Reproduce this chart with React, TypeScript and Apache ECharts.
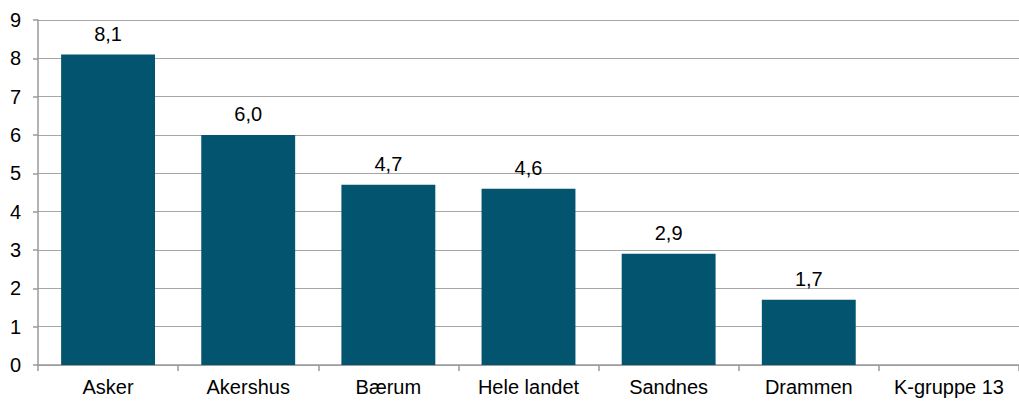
import React, { useEffect, useRef } from "react";
import * as echarts from "echarts";

const categories = ["Asker", "Akershus", "Bærum", "Hele landet", "Sandnes", "Drammen", "K-gruppe 13"];
const values: (number | null)[] = [8.1, 6.0, 4.7, 4.6, 2.9, 1.7, null];

export default function App() {
  const ref = useRef<HTMLDivElement>(null);
  useEffect(() => {
    document.body.style.margin = "0";
    const chart = echarts.init(ref.current!, undefined, { renderer: "svg" });
    const axisColor = "#9a9a9a";
    const font = "'Liberation Sans', Arial, sans-serif";
    chart.setOption({
      animation: false,
      textStyle: { fontFamily: font },
      grid: { left: 38, top: 20, width: 986, height: 345, containLabel: false },
      xAxis: {
        type: "category",
        data: categories,
        axisLine: { lineStyle: { color: axisColor, width: 1.5 } },
        axisTick: { show: true, alignWithLabel: false, length: 6, lineStyle: { color: axisColor, width: 1.5 } },
        axisLabel: { color: "#000", fontSize: 20, fontFamily: font, margin: 12, interval: 0 },
      },
      yAxis: {
        type: "value",
        min: 0,
        max: 9,
        interval: 1,
        axisLine: { show: true, lineStyle: { color: axisColor, width: 1.5 } },
        axisTick: { show: true, length: 5, lineStyle: { color: axisColor, width: 1.5 } },
        splitLine: { lineStyle: { color: "#a6a6a6", width: 1.2 } },
        axisLabel: { color: "#000", fontSize: 20, fontFamily: font, margin: 17 },
      },
      series: [
        {
          type: "bar",
          data: values,
          barCategoryGap: "33%",
          itemStyle: { color: "#03546E" },
          label: {
            show: true,
            position: "top",
            distance: 11,
            color: "#000",
            fontSize: 20,
            fontFamily: font,
            formatter: (p: any) => (p.value == null ? "" : Number(p.value).toFixed(1).replace(".", ",")),
          },
        },
      ],
    });
    return () => chart.dispose();
  }, []);
  return <div ref={ref} style={{ width: 1019, height: 403 }} />;
}
